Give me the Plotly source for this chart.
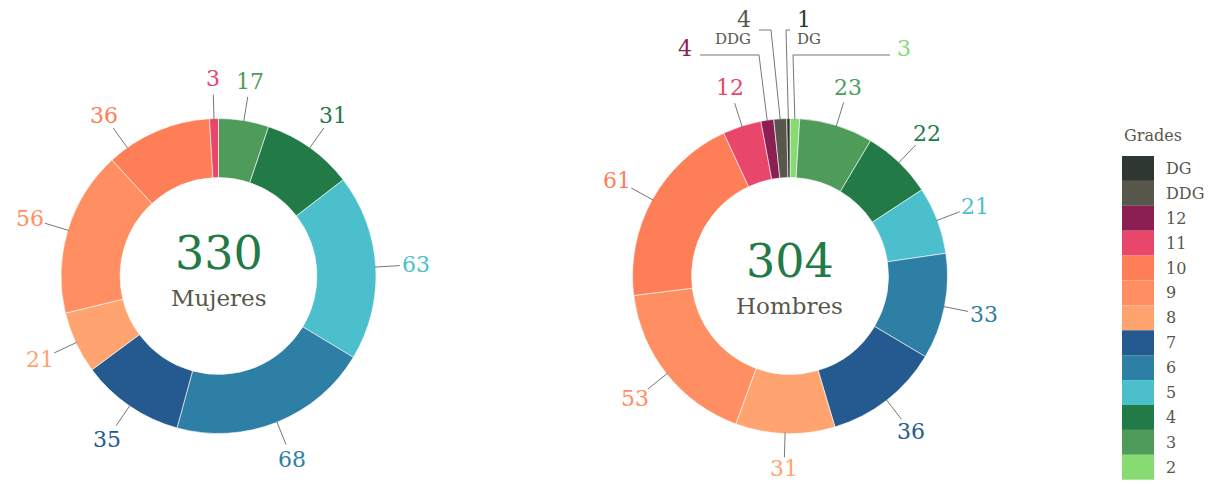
import math
import plotly.graph_objects as go

# ---------------- data ----------------
grades = ["DG", "DDG", "12", "11", "10", "9", "8", "7", "6", "5", "4", "3", "2"]
grade_colors = ["#2f3731", "#57574b", "#8c1f52", "#e9466b", "#fe7e58", "#ff8f62",
                "#ffa470", "#245a8f", "#2e7fa5", "#4cbfcd", "#227a46", "#4f9c5a", "#86dc72"]

pie_order = ["2", "3", "4", "5", "6", "7", "8", "9", "10", "11", "12", "DDG", "DG"]
mujeres_values = [0, 17, 31, 63, 68, 35, 21, 56, 36, 3, 0, 0, 0]
hombres_values = [3, 23, 22, 21, 33, 36, 31, 53, 61, 12, 4, 4, 1]
groups = ["Mujeres", "Hombres"]

# ---------------- style / layout ----------------
W, H = 1209, 484
FONT = "DejaVu Serif"
GRAY = "#57574b"
LINE = "#777777"
R = 157.5
HOLE = 0.625
LABEL_GAP = 40
centers = {"Mujeres": (218.5, 276.0), "Hombres": (790.0, 276.0)}
center_text_dy = {"Mujeres": 0.0, "Hombres": 8.0}
label_angle_shift = {("Mujeres", "10"): -12.5}
# elbow leader lines for the thin slices at the top of the men's ring
elbow = {
    ("Hombres", "2"): dict(start_dx=3, level=221, end_dx=100, side="right", sub=False),
    ("Hombres", "12"): dict(start_dx=-31, level=221, end_dx=-90, side="left", sub=False),
    ("Hombres", "DDG"): dict(start_dx=-19, level=246, end_dx=-31, side="left", sub=True),
    ("Hombres", "DG"): dict(start_dx=-4, level=246, end_dx=0, side="right", sub=True),
}

color_of = dict(zip(grades, grade_colors))


def px(x):
    return x / W


def py(y):
    return 1 - y / H


fig = go.Figure()
shapes = []
annotations = []

for grp, vals in zip(groups, [mujeres_values, hombres_values]):
    cx, cy = centers[grp]
    labs = [g for g, v in zip(pie_order, vals) if v > 0]
    vv = [v for v in vals if v > 0]
    total = sum(vv)
    fig.add_trace(go.Pie(
        labels=labs, values=vv, sort=False, direction="clockwise", rotation=0,
        hole=HOLE, textinfo="none", showlegend=False, name=grp,
        marker=dict(colors=[color_of[g] for g in labs], line=dict(color="white", width=0.6)),
        domain=dict(x=[px(cx - R), px(cx + R)], y=[py(cy + R), py(cy - R)]),
        hovertemplate="%{label}: %{value}<extra>" + grp + "</extra>",
    ))

    cum = 0
    for g, v in zip(labs, vv):
        theta = 360.0 * (cum + v / 2) / total
        cum += v
        col = color_of[g]
        key = (grp, g)
        if key in elbow:
            e = elbow[key]
            t = math.radians(theta)
            sx, sy = cx + R * math.sin(t), cy - R * math.cos(t)
            ax, ay = cx + e["start_dx"], cy - e["level"]
            bx = cx + e["end_dx"]
            path = "M {} {} L {} {} L {} {}".format(px(sx), py(sy + 1), px(ax), py(ay), px(bx), py(ay))
            shapes.append(dict(type="path", xref="paper", yref="paper", path=path,
                               line=dict(color=LINE, width=1)))
            if e["side"] == "right":
                tx, xa = bx + 5, "left"
            else:
                tx, xa = bx - 6, "right"
            if e["sub"]:
                annotations.append(dict(x=px(tx), y=py(ay - 11), xref="paper", yref="paper",
                                        text=str(v), showarrow=False, xanchor=xa, yanchor="middle",
                                        font=dict(family=FONT, size=22, color=col)))
                annotations.append(dict(x=px(tx), y=py(ay + 9), xref="paper", yref="paper",
                                        text=g, showarrow=False, xanchor=xa, yanchor="middle",
                                        font=dict(family=FONT, size=15, color=GRAY)))
            else:
                annotations.append(dict(x=px(tx), y=py(ay - 7), xref="paper", yref="paper",
                                        text=str(v), showarrow=False, xanchor=xa, yanchor="middle",
                                        font=dict(family=FONT, size=22, color=col)))
            continue
        theta += label_angle_shift.get(key, 0.0)
        t = math.radians(theta)
        dx, dy = math.sin(t), -math.cos(t)
        shapes.append(dict(type="line", xref="paper", yref="paper",
                           x0=px(cx + (R - 1) * dx), y0=py(cy + (R - 1) * dy),
                           x1=px(cx + (R + 24) * dx), y1=py(cy + (R + 24) * dy),
                           line=dict(color=LINE, width=1)))
        lx = cx + (R + LABEL_GAP) * dx
        ly = min(cy + (R + LABEL_GAP) * dy, H - 16)
        annotations.append(dict(x=px(lx), y=py(ly),
                                xref="paper", yref="paper", text=str(v), showarrow=False,
                                xanchor="center", yanchor="middle",
                                font=dict(family=FONT, size=22, color=col)))

    # centre text
    d = center_text_dy[grp]
    annotations.append(dict(x=px(cx), y=py(cy - 23 + d), xref="paper", yref="paper",
                            text=str(total), showarrow=False, xanchor="center", yanchor="middle",
                            font=dict(family=FONT, size=46, color="#227a46")))
    annotations.append(dict(x=px(cx), y=py(cy + 22 + d), xref="paper", yref="paper",
                            text=grp, showarrow=False, xanchor="center", yanchor="middle",
                            font=dict(family=FONT, size=23, color=GRAY)))

# custom legend
LEG_X0, LEG_X1, LEG_Y0, LEG_STEP = 1122, 1154, 156, 24.9
annotations.append(dict(x=px(1122), y=py(136), xref="paper", yref="paper", text="Grades",
                        showarrow=False, xanchor="left", yanchor="middle",
                        font=dict(family=FONT, size=16, color=GRAY)))
for i, (g, c) in enumerate(zip(grades, grade_colors)):
    y0 = LEG_Y0 + i * LEG_STEP
    shapes.append(dict(type="rect", xref="paper", yref="paper",
                       x0=px(LEG_X0), x1=px(LEG_X1), y0=py(y0), y1=py(y0 + LEG_STEP),
                       fillcolor=c, line=dict(width=0)))
    annotations.append(dict(x=px(1164), y=py(y0 + LEG_STEP / 2), xref="paper", yref="paper",
                            text=g, showarrow=False, xanchor="left", yanchor="middle",
                            font=dict(family=FONT, size=16, color=GRAY)))

fig.update_layout(
    width=W, height=H,
    margin=dict(l=0, r=0, t=0, b=0, pad=0),
    paper_bgcolor="white", plot_bgcolor="white",
    shapes=shapes, annotations=annotations,
    font=dict(family=FONT),
    showlegend=False,
)

fig.write_html("out.html", config={"displayModeBar": False},
               post_script="document.body.style.margin='0';")
